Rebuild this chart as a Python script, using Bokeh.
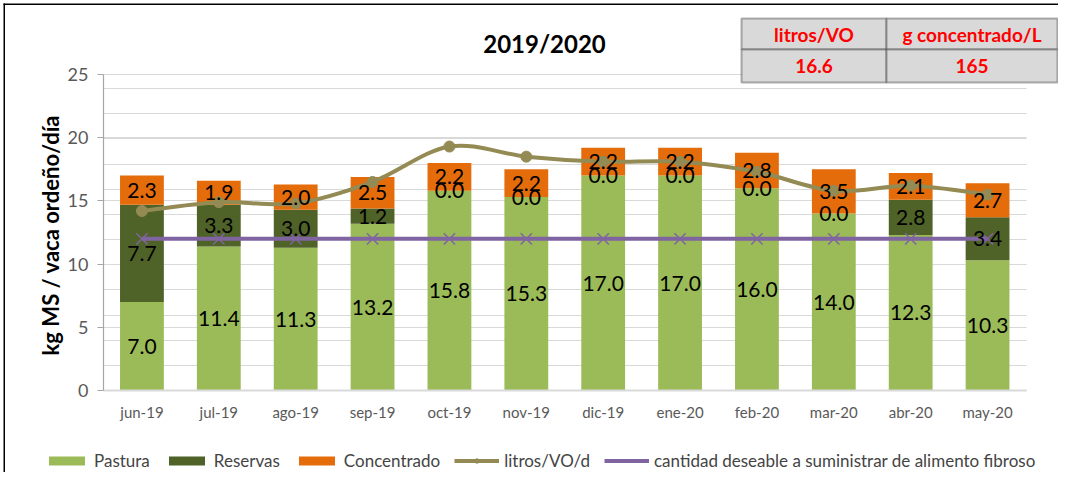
from bokeh.plotting import figure
from bokeh.models import (Range1d, ColumnDataSource, Legend, LegendItem,
                          Label, BoxAnnotation, FixedTicker, Grid)
from bokeh.core.properties import value
from bokeh.embed import file_html
from bokeh.resources import INLINE

# ---------------- data ----------------
months = ["jun-19", "jul-19", "ago-19", "sep-19", "oct-19", "nov-19",
          "dic-19", "ene-20", "feb-20", "mar-20", "abr-20", "may-20"]
pastura = [7.0, 11.4, 11.3, 13.2, 15.8, 15.3, 17.0, 17.0, 16.0, 14.0, 12.3, 10.3]
reservas = [7.7, 3.3, 3.0, 1.2, 0.0, 0.0, 0.0, 0.0, 0.0, 0.0, 2.8, 3.4]
concentrado = [2.3, 1.9, 2.0, 2.5, 2.2, 2.2, 2.2, 2.2, 2.8, 3.5, 2.1, 2.7]
litros = [14.2, 14.9, 14.8, 16.5, 19.3, 18.5, 18.1, 18.1, 17.3, 15.8, 16.2, 15.5]
deseable = [12, 12, 12, 12, 12, 12, 12, 12, 12, 12, 12, 12]
y_ticks = [0, 5, 10, 15, 20, 25]
secondary_grid = [0, 1.99, 3.98, 5.97, 7.96, 9.95, 11.94, 13.93, 15.92, 17.91, 19.9, 21.89, 23.88]
series_names = ["Pastura", "Reservas", "Concentrado", "litros/VO/d",
                "cantidad deseable a suministrar de alimento fibroso"]
table_headers = ["litros/VO", "g concentrado/L"]
table_values = ["16.6", "165"]
chart_title = "2019/2020"
y_label = "kg MS /  vaca ordeño/día"

# ---------------- layout / style ----------------
FONT = "Lato"
C_PAST, C_RES, C_CONC = "#9BBB59", "#4F6228", "#E46C0A"
C_LIT, C_DES = "#948A54", "#8064A2"
GRID = "#D9D9D9"

W, H = 1058, 472
CAT_L, CAT_R = 103, 1025.5   # left edge of first / right edge of last category (px)
Y0_PX, Y25_PX = 390, 74      # pixel rows of 0 and 25
n = len(months)
cat_w = (CAT_R - CAT_L) / n
ppu = (Y0_PX - Y25_PX) / 25.0

# category positions on the x scale (category i occupies [i, i+1])
xs = [i + 0.5 for i in range(n)]

src = ColumnDataSource(dict(x=xs, months=months, pastura=pastura, reservas=reservas,
                            concentrado=concentrado, litros=litros, deseable=deseable))

p = figure(width=W, height=H,
           x_range=Range1d(-CAT_L / cat_w, (W - CAT_L) / cat_w),
           y_range=Range1d(-(H - Y0_PX) / ppu, Y0_PX / ppu), title=None,
           output_backend="svg", toolbar_location=None,
           min_border_left=0, min_border_right=0, min_border_top=0, min_border_bottom=0)
p.outline_line_color = None
p.background_fill_color = "white"
p.border_fill_color = "white"

# grids
p.xgrid.grid_line_color = None
p.ygrid.ticker = FixedTicker(ticks=y_ticks)
p.ygrid.grid_line_color = GRID
p.ygrid.grid_line_width = 1.2
p.ygrid.bounds = (0, 25)
p.ygrid.cross_bounds = (0, n)
g2 = Grid(dimension=1, ticker=FixedTicker(ticks=secondary_grid), bounds=(0, 25),
          grid_line_color=GRID, grid_line_width=1.2, cross_bounds=(0, n))
p.add_layout(g2)

# axes (placed inside the frame)
p.yaxis.fixed_location = 0
p.yaxis.bounds = (0, 25)
p.yaxis.ticker = FixedTicker(ticks=y_ticks)
p.yaxis.axis_line_color = "#A6A6A6"
p.yaxis.axis_line_width = 1.2
p.yaxis.major_tick_line_color = "#A6A6A6"
p.yaxis.major_tick_line_width = 1.2
p.yaxis.major_tick_in = 0
p.yaxis.major_tick_out = 6
p.yaxis.minor_tick_line_color = None
p.yaxis.major_label_text_font = FONT
p.yaxis.major_label_text_font_size = "18px"
p.yaxis.major_label_text_color = "#595959"
p.yaxis.major_label_standoff = 9
p.yaxis.axis_label = y_label
p.yaxis.axis_label_text_font = FONT
p.yaxis.axis_label_text_font_style = "bold"
p.yaxis.axis_label_text_font_size = "22px"
p.yaxis.axis_label_text_color = "black"
p.yaxis.axis_label_standoff = 1

p.xaxis.fixed_location = 0
p.xaxis.bounds = (0, n)
p.xaxis.ticker = FixedTicker(ticks=xs)
p.xaxis.major_label_overrides = {x: m for x, m in zip(xs, months)}
p.xaxis.axis_line_color = GRID
p.xaxis.axis_line_width = 2
p.xaxis.major_tick_line_color = None
p.xaxis.major_tick_in = 0
p.xaxis.major_tick_out = 0
p.xaxis.minor_tick_line_color = None
p.xaxis.major_label_text_font = FONT
p.xaxis.major_label_text_font_size = "15px"
p.xaxis.major_label_text_color = "#595959"
p.xaxis.major_label_standoff = 12

# bars
bars = p.vbar_stack(["pastura", "reservas", "concentrado"], x="x", width=0.57,
                    color=[C_PAST, C_RES, C_CONC], line_width=0, source=src)

# target line
des_line = p.line("x", "deseable", source=src, line_color=C_DES, line_width=4)
des_pts = p.scatter("x", "deseable", source=src, marker="x", size=16,
                    line_color=C_DES, line_width=1.5)

# litros line, drawn as a smoothed curve through the data points (as Excel does)
bx0, by0, bx1, by1, bcx0, bcy0, bcx1, bcy1 = ([] for _ in range(8))
for i in range(n - 1):
    a, b = max(i - 1, 0), min(i + 2, n - 1)
    bx0.append(xs[i]); by0.append(litros[i])
    bx1.append(xs[i + 1]); by1.append(litros[i + 1])
    bcx0.append(xs[i] + (xs[i + 1] - xs[a]) / 6); bcy0.append(litros[i] + (litros[i + 1] - litros[a]) / 6)
    bcx1.append(xs[i + 1] - (xs[b] - xs[i]) / 6); bcy1.append(litros[i + 1] - (litros[b] - litros[i]) / 6)
lit_line = p.bezier(x0=bx0, y0=by0, x1=bx1, y1=by1, cx0=bcx0, cy0=bcy0, cx1=bcx1, cy1=bcy1,
                    line_color=C_LIT, line_width=4)
lit_pts = p.scatter("x", "litros", source=src, marker="circle", size=11,
                    fill_color=C_LIT, line_color=C_LIT)

# data labels (centre of each stacked segment)
lx, ly, lt = [], [], []
for x, a, b, c in zip(xs, pastura, reservas, concentrado):
    lx += [x, x, x]
    ly += [a / 2, a + b / 2, a + b + c / 2]
    lt += [f"{a:.1f}", f"{b:.1f}", f"{c:.1f}"]
p.text(x=lx, y=ly, text=lt, text_align="center", text_baseline="middle",
       text_font=value(FONT), text_font_size="21px", text_color="black")

# legend
legend = Legend(items=[
    LegendItem(label=series_names[0], renderers=[bars[0]]),
    LegendItem(label=series_names[1], renderers=[bars[1]]),
    LegendItem(label=series_names[2], renderers=[bars[2]]),
    LegendItem(label=series_names[3], renderers=[lit_line, lit_pts]),
    LegendItem(label=series_names[4], renderers=[des_line, des_pts]),
], orientation="horizontal", location=(44, 1), glyph_width=45, glyph_height=11,
    label_text_font=FONT, label_text_font_size="17px", label_standoff=5, spacing=14,
    label_height=11, padding=0, margin=0, border_line_color=None, background_fill_alpha=0)
p.add_layout(legend)

# title
p.add_layout(Label(x=544, y=43, x_units="canvas", y_units="canvas", text=chart_title,
                   text_align="center", text_baseline="middle", text_font=FONT,
                   text_font_style="bold", text_font_size="24px", text_color="black"))

# table
tbl_l, tbl_m, tbl_r = 741, 886, W - 1
tbl_t, tbl_mid, tbl_b = 18, 49, 82
for (l, r) in [(tbl_l, tbl_m), (tbl_m, tbl_r)]:
    for (t, b) in [(tbl_t, tbl_mid), (tbl_mid, tbl_b)]:
        p.add_layout(BoxAnnotation(left=l, right=r, top=t, bottom=b,
                                   left_units="canvas", right_units="canvas",
                                   top_units="canvas", bottom_units="canvas",
                                   fill_color="#D9D9D9", fill_alpha=1,
                                   line_color="black", line_width=2, level="overlay"))
cx = [(tbl_l + tbl_m) / 2, (tbl_m + tbl_r) / 2]
for i in range(2):
    for txt, yy in [(table_headers[i], (tbl_t + tbl_mid) / 2),
                    (table_values[i], (tbl_mid + tbl_b) / 2)]:
        p.add_layout(Label(x=cx[i], y=yy, x_units="canvas", y_units="canvas",
                           text=txt, text_align="center", text_baseline="middle",
                           text_font=FONT, text_font_style="bold", text_font_size="19px",
                           text_color="#FF0000", level="overlay"))

# outer border (top and left)
for (l, r, t, b) in [(3, W, 3, 4.5), (3, 4.5, 3, H)]:
    p.add_layout(BoxAnnotation(left=l, right=r, top=t, bottom=b, left_units="canvas",
                               right_units="canvas", top_units="canvas", bottom_units="canvas",
                               fill_color="black", fill_alpha=1, line_color=None))

open("out.html", "w").write(file_html(p, INLINE))
